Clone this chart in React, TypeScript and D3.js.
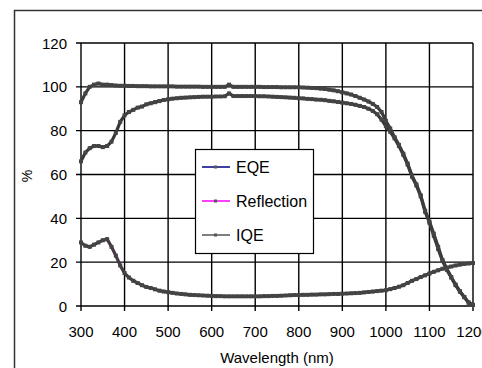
import React, { useEffect, useRef } from 'react';
import * as d3 from 'd3';

// wavelengths (nm)
const wavelengths = [
  300, 310, 320, 330, 340, 350, 360, 370, 380, 390,
  400, 410, 420, 430, 440, 450, 460, 470, 480, 490,
  500, 510, 520, 530, 540, 550, 560, 570, 580, 590,
  600, 610, 620, 630, 640, 650, 660, 670, 680, 690,
  700, 710, 720, 730, 740, 750, 760, 770, 780, 790,
  800, 810, 820, 830, 840, 850, 860, 870, 880, 890,
  900, 910, 920, 930, 940, 950, 960, 970, 980, 990,
  1000, 1010, 1020, 1030, 1040, 1050, 1060, 1070, 1080, 1090,
  1100, 1110, 1120, 1130, 1140, 1150, 1160, 1170, 1180, 1190,
  1200,
];

const eqe = [
  66, 70, 72, 73, 73, 72.5, 73, 75, 79, 84,
  87, 88.5, 89.5, 90.5, 91, 92, 92.5, 93, 93.5, 94,
  94.3, 94.6, 94.8, 95, 95.1, 95.2, 95.3, 95.4, 95.5, 95.5,
  95.5, 95.6, 95.6, 95.7, 97, 95.8, 95.8, 95.8, 95.8, 95.8,
  95.8, 95.7, 95.7, 95.6, 95.5, 95.4, 95.3, 95.2, 95.1, 95,
  94.8, 94.7, 94.5, 94.4, 94.2, 94.1, 93.9, 93.6, 93.4, 93.1,
  92.8, 92.5, 92.2, 91.8, 91.3, 90.8, 90, 89, 87.5, 85,
  82, 79.5, 76.5, 73, 69, 64.5, 59, 55, 50, 43,
  38, 32, 26, 20.5, 16.5, 13, 9.5, 6.5, 4, 1.5,
  0.5,
];

const reflection = [
  29, 27.5, 27, 28, 29, 30, 30.5, 27, 23, 18.5,
  15, 13, 11.5, 10.5, 9.5, 8.7, 8.2, 7.6, 7, 6.6,
  6.3, 6, 5.7, 5.5, 5.3, 5.1, 5, 4.9, 4.8, 4.7,
  4.6, 4.5, 4.5, 4.4, 4.4, 4.4, 4.4, 4.4, 4.4, 4.4,
  4.4, 4.4, 4.5, 4.5, 4.6, 4.6, 4.7, 4.8, 4.9, 5,
  5, 5.1, 5.1, 5.2, 5.2, 5.3, 5.3, 5.4, 5.5, 5.5,
  5.6, 5.7, 5.8, 5.9, 6, 6.2, 6.4, 6.6, 6.8, 7,
  7.2, 7.7, 8.2, 8.8, 9.5, 10.5, 11.5, 12.3, 13.2, 14,
  14.8, 15.6, 16.3, 17, 17.5, 18, 18.5, 18.9, 19.2, 19.4,
  19.6,
];

const iqe = [
  93, 97, 100, 101, 101.5, 101, 101, 100.8, 100.6, 100.5,
  100.5, 100.4, 100.4, 100.3, 100.3, 100.3, 100.2, 100.2, 100.2, 100.2,
  100.2, 100.2, 100.1, 100.1, 100.1, 100.1, 100.1, 100.1, 100, 100,
  100, 100, 100, 100, 101, 100, 100, 100, 100, 100,
  100, 100, 99.9, 99.9, 99.9, 99.9, 99.8, 99.8, 99.8, 99.8,
  99.8, 99.7, 99.6, 99.5, 99.4, 99.2, 99, 98.7, 98.4, 98,
  97.5, 97, 96.5, 95.8, 95, 94.2, 93.3, 92.2, 90.8, 88.5,
  84.5, 81, 77, 73.5, 69.5, 65, 59.5, 55.5, 50.5, 43.5,
  38.5, 33, 27, 21, 17, 13.2, 9.8, 6.7, 4.1, 1.6,
  0.5,
];

const seriesNames = ['EQE', 'Reflection', 'IQE'];
const seriesColors = ['#000080', '#ff00ff', '#555555'];
const xTicks = [300, 400, 500, 600, 700, 800, 900, 1000, 1100, 1200];
const yTicks = [0, 20, 40, 60, 80, 100, 120];

const App = () => {
  const svgRef = useRef<SVGSVGElement>(null);

  useEffect(() => {
    const width = 482;
    const height = 368;
    const left = 81;
    const right = 473;
    const top = 43;
    const bottom = 306;
    const font = '"Liberation Sans", Arial, sans-serif';

    const svg = d3.select(svgRef.current);
    svg.selectAll('*').remove();
    svg.attr('width', width).attr('height', height);

    svg.append('rect').attr('width', width).attr('height', height).attr('fill', '#fff');

    // outer chart frame
    svg.append('rect')
      .attr('x', 14.5).attr('y', 10.5)
      .attr('width', 480).attr('height', 370)
      .attr('fill', 'none').attr('stroke', '#333').attr('stroke-width', 1.5);

    const x = d3.scaleLinear().domain([300, 1200]).range([left, right]);
    const y = d3.scaleLinear().domain([0, 120]).range([bottom, top]);

    // grid
    const grid = svg.append('g').attr('stroke', '#000').attr('stroke-width', 1.4);
    xTicks.forEach(t => {
      grid.append('line').attr('x1', x(t)).attr('x2', x(t)).attr('y1', top).attr('y2', bottom + 5);
    });
    yTicks.forEach(t => {
      grid.append('line').attr('x1', left - 5).attr('x2', right).attr('y1', y(t)).attr('y2', y(t));
    });

    // tick labels
    svg.append('g')
      .selectAll('text')
      .data(xTicks)
      .enter()
      .append('text')
      .attr('x', d => x(d))
      .attr('y', 337)
      .attr('text-anchor', 'middle')
      .attr('font-family', font)
      .attr('font-size', 15)
      .text(d => d);

    svg.append('g')
      .selectAll('text')
      .data(yTicks)
      .enter()
      .append('text')
      .attr('x', 67)
      .attr('y', d => y(d) + 5.5)
      .attr('text-anchor', 'end')
      .attr('font-family', font)
      .attr('font-size', 15)
      .text(d => d);

    // axis titles
    svg.append('text')
      .attr('x', 277).attr('y', 363)
      .attr('text-anchor', 'middle')
      .attr('font-family', font).attr('font-size', 15)
      .text('Wavelength (nm)');

    svg.append('text')
      .attr('transform', 'translate(32,176) rotate(-90)')
      .attr('text-anchor', 'middle')
      .attr('font-family', font).attr('font-size', 14)
      .text('%');

    // series
    const allSeries = [eqe, reflection, iqe];
    const line = d3.line<number>()
      .x((_, i) => x(wavelengths[i]))
      .y(d => y(d));

    allSeries.forEach((values, k) => {
      const g = svg.append('g');
      g.append('path')
        .datum(values)
        .attr('d', line)
        .attr('fill', 'none')
        .attr('stroke', '#3a3a3a')
        .attr('stroke-width', 3.2)
        .attr('stroke-linejoin', 'round');
      g.append('path')
        .datum(values)
        .attr('d', line)
        .attr('fill', 'none')
        .attr('stroke', seriesColors[k])
        .attr('stroke-opacity', 0.25)
        .attr('stroke-width', 0.8);
      g.selectAll('rect')
        .data(values)
        .enter()
        .append('rect')
        .attr('x', (_, i) => x(wavelengths[i]) - 2)
        .attr('y', d => y(d) - 2)
        .attr('width', 4)
        .attr('height', 4)
        .attr('fill', '#444');
    });

    // legend
    const legend = svg.append('g');
    legend.append('rect')
      .attr('x', 195.5).attr('y', 149.5)
      .attr('width', 118).attr('height', 104)
      .attr('fill', '#fff').attr('stroke', '#000').attr('stroke-width', 1.2);

    seriesNames.forEach((name, i) => {
      const ly = 167 + i * 34;
      legend.append('line')
        .attr('x1', 202).attr('x2', 230).attr('y1', ly).attr('y2', ly)
        .attr('stroke', seriesColors[i]).attr('stroke-width', 1.5);
      legend.append('rect')
        .attr('x', 214).attr('y', ly - 1.5).attr('width', 3).attr('height', 3)
        .attr('fill', '#555');
      legend.append('text')
        .attr('x', 236).attr('y', ly + 6)
        .attr('font-family', font).attr('font-size', 16)
        .text(name);
    });
  }, []);

  return (
    <svg ref={svgRef} style={{ position: 'absolute', left: 0, top: 0, display: 'block' }}></svg>
  );
};

export default App;
